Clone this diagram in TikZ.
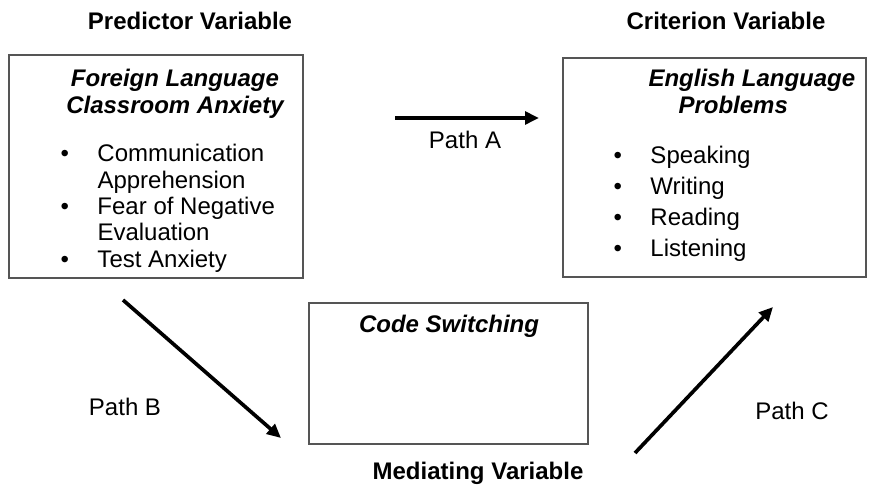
\documentclass[tikz,border=0pt]{standalone}
\usepackage{fontspec}
\setmainfont{Liberation Sans}
\usetikzlibrary{arrows.meta}
\newcommand{\diagfont}{\fontsize{18}{19.7}\selectfont}
\newcommand{\itemmark}{\makebox[27.75pt][l]{\textbullet}}
\tikzset{every picture/.style={line width=0.75pt}}

\begin{document}
\begin{tikzpicture}[x=0.75pt,y=0.75pt,yscale=-1,xscale=1,
  varbox/.style={draw={rgb, 255:red, 85; green, 85; blue, 85}, line width=1.5, inner sep=0, outer sep=0},
  patharrow/.style={line width=2.75, -{Triangle[length=10.5pt,width=9.5pt]}},
  headlbl/.style={anchor=base, inner sep=0, font=\diagfont\bfseries},
  boxtext/.style={inner sep=0, font=\diagfont}]
\useasboundingbox (0,0) rectangle (887,491);

%Shape: Rectangle [id:predictor]
\node [varbox, minimum width=220.5pt, minimum height=167.25pt] (flcabox) at (156,166.5) {};
%Shape: Rectangle [id:criterion]
\node [varbox, minimum width=227.25pt, minimum height=164.25pt] (elpbox) at (714.5,167.5) {};
%Shape: Rectangle [id:mediating]
\node [varbox, minimum width=209.25pt, minimum height=105.75pt] (csbox) at (448.5,373.5) {};

%Straight Lines [id:patha]
\coordinate (pathAfrom) at (395,118);
\coordinate (pathAto) at (539,118);
\draw [patharrow] (pathAfrom) -- (pathAto) ;
%Straight Lines [id:pathb]
\coordinate (pathBfrom) at (123,300);
\coordinate (pathBto) at (281,438);
\draw [patharrow] (pathBfrom) -- (pathBto) ;
%Straight Lines [id:pathc]
\coordinate (pathCfrom) at (635,453);
\coordinate (pathCto) at (773,307);
\draw [patharrow] (pathCfrom) -- (pathCto) ;

% Text Node
\node [headlbl] (predlbl) at (190,30) {Predictor Variable};
% Text Node
\node [headlbl] (critlbl) at (726,30) {Criterion Variable};
% Text Node
\node [headlbl] (medlbl) at (478,479) {Mediating Variable};

% Text Node
\node [boxtext, anchor=base, font=\diagfont\bfseries\itshape] (flcatitle) at (175,87)
  {\begin{tabular}[t]{@{}c@{}}Foreign Language\\Classroom Anxiety\end{tabular}};
% Text Node
\node [boxtext, anchor=base west] (flcalist) at (60,162)
  {\begin{tabular}[t]{@{}l@{}}\itemmark Communication\\\hspace*{27.75pt}Apprehension\\\itemmark Fear of Negative\\\hspace*{27.75pt}Evaluation\\\itemmark Test Anxiety\end{tabular}};

% Text Node
\node [boxtext, anchor=base west, font=\diagfont\bfseries\itshape] (elptitle) at (648,87)
  {\begin{tabular}[t]{@{}l@{}}English Language\\\hspace*{22.5pt}Problems\end{tabular}};
% Text Node
\node [boxtext, anchor=base west, font=\fontsize{18}{23.25}\selectfont] (elplist) at (613,164)
  {\begin{tabular}[t]{@{}l@{}}\itemmark Speaking\\\itemmark Writing\\\itemmark Reading\\\itemmark Listening\end{tabular}};

% Text Node
\node [boxtext, anchor=base, font=\diagfont\bfseries\itshape] (cstitle) at (449,332) {Code Switching};

% Text Node
\node [boxtext, anchor=base] (pathAlbl) at (465,149) {Path A};
% Text Node
\node [boxtext, anchor=base] (pathBlbl) at (125,415) {Path B};
% Text Node
\node [boxtext, anchor=base] (pathClbl) at (792,419) {Path C};

\end{tikzpicture}
\end{document}
